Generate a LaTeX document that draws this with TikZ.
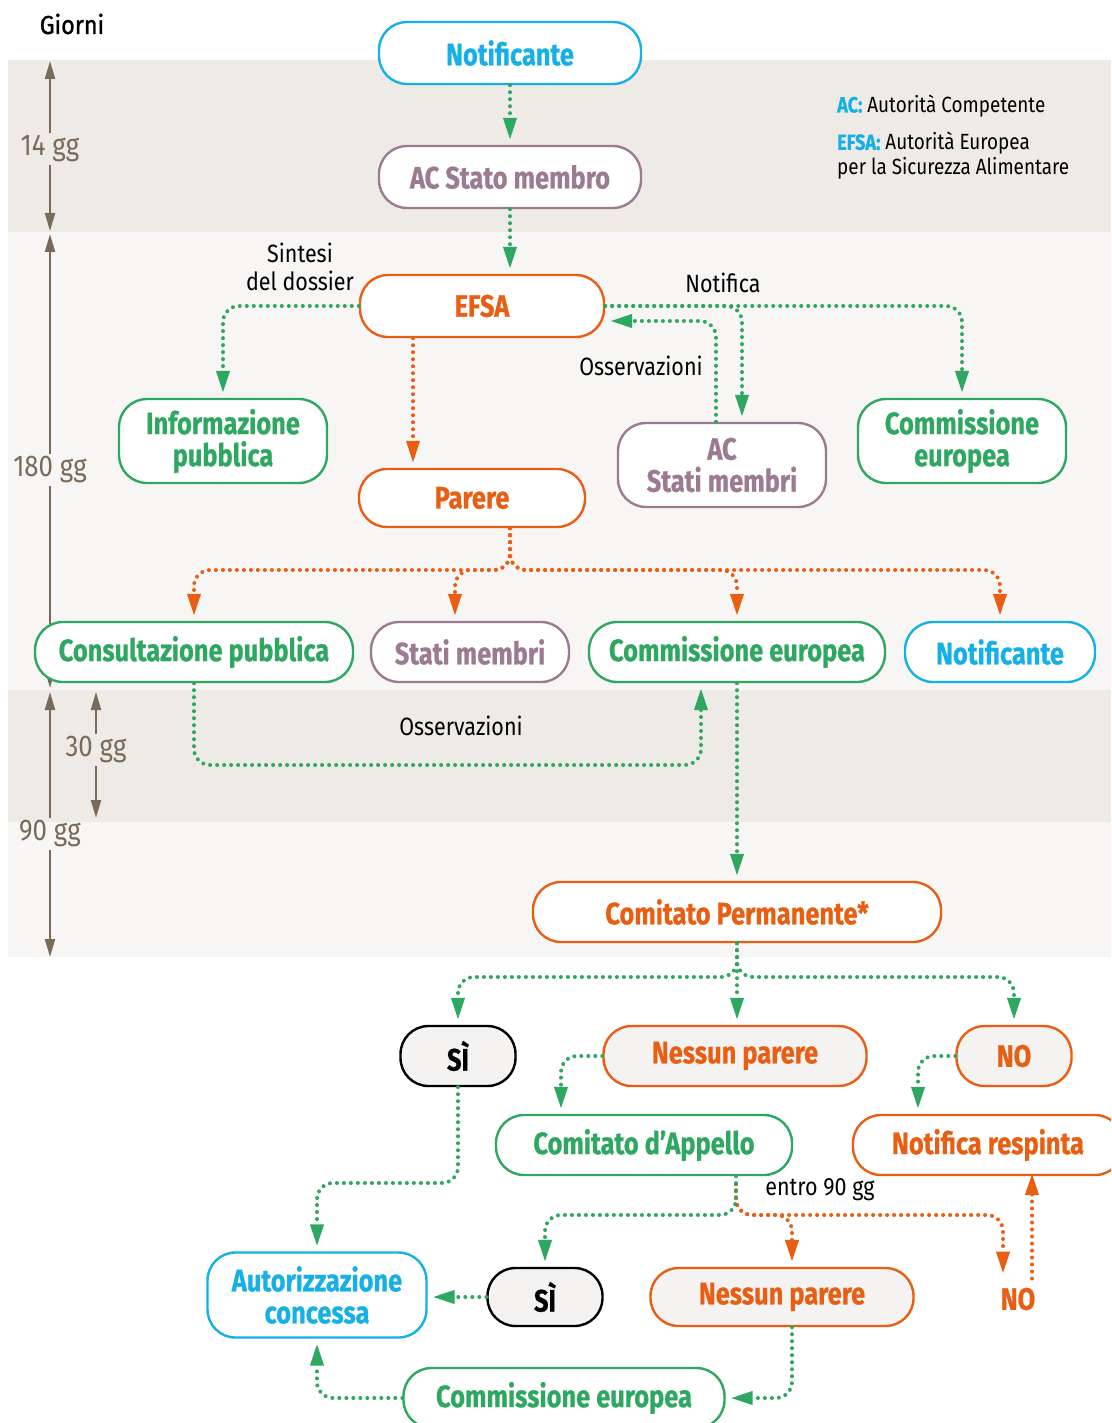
\documentclass[tikz,border=0pt]{standalone}
\usepackage{fontspec}
\setmainfont{Fira Sans}
\newfontfamily\condfont{Fira Sans}[FakeStretch=0.82,BoldFeatures={FakeBold=0.6}]
\newfontfamily\lblfont{Fira Sans}[FakeStretch=0.86]
\newfontfamily\medfont{Fira Sans}[FakeStretch=0.9,FakeBold=1.2]
\usetikzlibrary{arrows.meta}
\definecolor{efblue}{RGB}{22,176,230}
\definecolor{eforange}{RGB}{232,94,18}
\definecolor{efgreen}{RGB}{46,167,97}
\definecolor{efmauve}{RGB}{156,123,146}
\definecolor{efbrown}{RGB}{122,106,88}
\definecolor{banddark}{RGB}{238,235,230}
\definecolor{bandlight}{RGB}{247,246,244}
\definecolor{decfill}{RGB}{244,243,241}

\begin{document}
\begin{tikzpicture}[x=1pt,y=-1pt,
  box/.style={draw=#1,text=#1,fill=white,line width=2.4pt,rounded corners=28pt,align=center,inner sep=0pt,
    font=\condfont\bfseries\fontsize{31}{32}\selectfont},
  dec/.style={box=#1,fill=decfill},
  flow/.style={draw=#1,line width=4pt,line cap=round,dash pattern=on 0pt off 7pt,rounded corners=16pt,
    -{Triangle[length=22pt,width=13pt]},shorten >=5pt},
  lbl/.style={font=\lblfont\fontsize{25}{28}\selectfont,align=center,inner sep=0pt},
  gg/.style={text=efbrown,font=\lblfont\fontsize{30}{30}\selectfont,inner sep=2pt},
  dur/.style={draw=efbrown,line width=2.2pt,-{Triangle[length=18pt,width=10pt]}}]
\useasboundingbox (0,0) rectangle (1111,1423);
\clip (0,0) rectangle (1111,1423);
\fill[white] (0,0) rectangle (1111,1423);
\fill[banddark] (8,60) rectangle (1111,232);
\fill[bandlight] (8,232) rectangle (1111,690);
\fill[banddark] (8,690) rectangle (1111,822);
\fill[bandlight] (8,822) rectangle (1111,957);

\node[lbl,font=\medfont\fontsize{26}{28}\selectfont] (giorni) at (72,24) {Giorni};
\coordinate (a0) at (50,61); \coordinate (a1) at (50,231);
\coordinate (a2) at (50,234); \coordinate (a3) at (50,688);
\coordinate (a4) at (50,692); \coordinate (a5) at (50,957);
\coordinate (a6) at (96,692); \coordinate (a7) at (96,818);
\node[gg] (g14) at (50,149) {14 gg};
\node[gg] (g180) at (50,470) {180 gg};
\node[gg] (g90) at (50,834) {90 gg};
\node[gg] (g30) at (96,750) {30 gg};
\draw[dur] (g14.north) -- (a0);
\draw[dur] (g14.south) -- (a1);
\draw[dur] (g180.north) -- (a2);
\draw[dur] (g180.south) -- (a3);
\draw[dur] (g90.north) -- (a4);
\draw[dur] (g90.south) -- (a5);
\draw[dur] (g30.north) -- (a6);
\draw[dur] (g30.south) -- (a7);

\node[box=efblue,minimum width=262pt,minimum height=62pt] (n1) at (510,53) {Notificante};
\node[box=efmauve,minimum width=262pt,minimum height=62pt] (acsm) at (510,177) {AC Stato membro};
\node[box=eforange,minimum width=244pt,minimum height=62pt] (efsa) at (482,306) {EFSA};
\node[box=efgreen,minimum width=208pt,minimum height=84pt] (info) at (223,441) {Informazione\\pubblica};
\node[box=eforange,minimum width=226pt,minimum height=58pt] (parere) at (472,498) {Parere};
\node[box=efmauve,minimum width=208pt,minimum height=84pt] (acst) at (722,465) {AC\\Stati membri};
\node[box=efgreen,minimum width=208pt,minimum height=84pt] (ce1) at (962,441) {Commissione\\europea};
\node[box=efgreen,minimum width=318pt,minimum height=60pt] (cons) at (194,652) {Consultazione pubblica};
\node[box=efmauve,minimum width=198pt,minimum height=60pt] (stati) at (470,652) {Stati membri};
\node[box=efgreen,minimum width=296pt,minimum height=60pt] (ce2) at (737,652) {Commissione europea};
\node[box=efblue,minimum width=190pt,minimum height=60pt] (n2) at (1000,652) {Notificante};
\node[box=eforange,minimum width=408pt,minimum height=60pt] (perm) at (737,912) {Comitato Permanente*};
\node[dec=black,minimum width=115pt,minimum height=60pt] (si1) at (458,1056) {SÌ};
\node[dec=eforange,minimum width=263pt,minimum height=60pt] (np1) at (735,1056) {Nessun parere};
\node[dec=eforange,minimum width=115pt,minimum height=60pt] (no1) at (1014,1056) {NO};
\node[box=efgreen,minimum width=296pt,minimum height=60pt] (app) at (644,1145) {Comitato d’Appello};
\node[box=eforange,minimum width=270pt,minimum height=60pt] (resp) at (988,1145) {Notifica respinta};
\node[box=efblue,minimum width=219pt,minimum height=85pt] (aut) at (317,1295) {Autorizzazione\\concessa};
\node[dec=black,minimum width=115pt,minimum height=58pt] (si2) at (545,1297) {SÌ};
\node[dec=eforange,minimum width=263pt,minimum height=58pt] (np2) at (782,1297) {Nessun parere};
\node[box=eforange,draw=none,fill=none] (no2) at (1018,1299) {NO};
\node[box=efgreen,minimum width=321pt,minimum height=60pt] (ce3) at (564,1398) {Commissione europea};

\coordinate (pj) at (510,570);
\coordinate (obs) at (450,765);
\coordinate (cj) at (737,977);
\coordinate (sa) at (400,1183);
\coordinate (aj) at (736,1215);

\draw[flow=efgreen] (n1) -- (acsm);
\draw[flow=efgreen] (acsm.south) -- (acsm.south |- efsa.north);
\draw[flow=efgreen] (efsa.west) -| (info.north);
\draw[flow=eforange] ([xshift=-69pt]efsa.south) -- ([xshift=-59pt]parere.north);
\draw[flow=efgreen] (efsa.east) -| (ce1.north);
\draw[flow=efgreen] (efsa.east) -| ([xshift=20pt]acst.north);
\draw[flow=efgreen] ([xshift=-6pt]acst.north) |- ([yshift=-15pt]efsa.east);
\draw[flow=eforange] (parere.south -| pj) -- (pj) -| (cons.north);
\draw[flow=eforange] (parere.south -| pj) -- (pj) -| ([xshift=-15pt]stati.north);
\draw[flow=eforange] (parere.south -| pj) -- (pj) -| (ce2.north);
\draw[flow=eforange] (parere.south -| pj) -- (pj) -| (n2.north);
\draw[flow=efgreen] (cons.south) |- (obs) -| ([xshift=-36pt]ce2.south);
\draw[flow=efgreen] (ce2) -- (perm);
\draw[flow=efgreen] (perm.south) -- (cj) -| (si1.north);
\draw[flow=efgreen] (perm.south) -- (perm.south |- np1.north);
\draw[flow=efgreen] (perm.south) -- (cj) -| (no1.north);
\draw[flow=efgreen] (np1.west) -| ([xshift=-83pt]app.north);
\draw[flow=efgreen] (no1.west) -| ([xshift=-70pt]resp.north);
\draw[flow=efgreen] (si1.south) |- (sa) -| (aut.north);
\draw[flow=eforange] ([xshift=92pt,yshift=-8pt]app.south) -- (aj) -| ([xshift=10pt]np2.north);
\draw[flow=eforange] ([xshift=92pt,yshift=-8pt]app.south) -- (aj) -| ([xshift=-15pt,yshift=8pt]no2.north);
\draw[flow=efgreen] ([xshift=92pt]app.south) -- (aj) -| (si2.north);
\draw[flow=eforange] ([xshift=14pt,yshift=8pt]no2.north) -- ([xshift=14pt,yshift=8pt]no2.north |- resp.south);
\draw[flow=efgreen] (si2.west) -- (si2.west -| aut.east);
\draw[flow=efgreen] ([xshift=10pt]np2.south) |- (ce3.east);
\draw[flow=efgreen] (ce3.west) -| (aut.south);

\node[lbl] (sint) at (300,267) {Sintesi\\del dossier};
\node[lbl] (notif) at (723,283) {Notifica};
\node[lbl] (oss1) at (641,366) {Osservazioni};
\node[lbl] (oss2) at (461,726) {Osservazioni};
\node[lbl] (entro) at (820,1190) {entro 90 gg};
\node[lbl,anchor=west,font=\lblfont\fontsize{22}{26}\selectfont] (leg1) at (837,106)
  {\textcolor{efblue}{\condfont\bfseries AC:} Autorità Competente};
\node[lbl,anchor=north west,align=left,font=\lblfont\fontsize{22}{25}\selectfont] (leg2) at (837,132)
  {\textcolor{efblue}{\condfont\bfseries EFSA:} Autorità Europea\\per la Sicurezza Alimentare};
\end{tikzpicture}
\end{document}
